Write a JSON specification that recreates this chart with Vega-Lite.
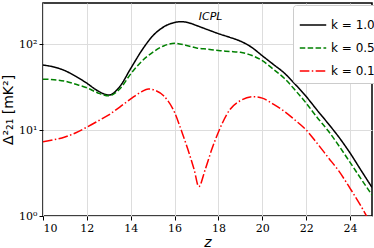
{
  "$schema": "https://vega.github.io/schema/vega-lite/v6.json",
  "width": 329,
  "height": 213,
  "autosize": {"type": "none"},
  "padding": {"left": 43, "top": 3, "right": 2, "bottom": 32},
  "background": "white",
  "config": {
    "view": {"stroke": "black", "strokeWidth": 1.5},
    "axis": {
      "labelFont": "DejaVu Serif", "labelFontSize": 11, "labelColor": "black",
      "titleFont": "DejaVu Sans", "titleFontWeight": "normal", "titleColor": "black",
      "gridColor": "#dddddd", "gridWidth": 1,
      "tickColor": "black", "tickSize": 4, "domain": false
    }
  },
  "datasets": {
    "curves": [
      {"z": 10, "v": 57, "k": "k = 1.0"}, {"z": 10.5, "v": 54, "k": "k = 1.0"}, {"z": 11, "v": 49, "k": "k = 1.0"}, {"z": 11.5, "v": 42, "k": "k = 1.0"}, {"z": 12, "v": 35, "k": "k = 1.0"}, {"z": 12.5, "v": 28.5, "k": "k = 1.0"}, {"z": 13, "v": 25.5, "k": "k = 1.0"}, {"z": 13.5, "v": 32, "k": "k = 1.0"}, {"z": 14, "v": 52, "k": "k = 1.0"}, {"z": 14.5, "v": 84, "k": "k = 1.0"}, {"z": 15, "v": 124, "k": "k = 1.0"}, {"z": 15.5, "v": 158, "k": "k = 1.0"}, {"z": 16, "v": 178, "k": "k = 1.0"}, {"z": 16.3, "v": 182, "k": "k = 1.0"}, {"z": 16.6, "v": 178, "k": "k = 1.0"}, {"z": 17, "v": 164, "k": "k = 1.0"}, {"z": 17.5, "v": 147, "k": "k = 1.0"}, {"z": 18, "v": 132, "k": "k = 1.0"}, {"z": 18.5, "v": 120, "k": "k = 1.0"}, {"z": 19, "v": 108, "k": "k = 1.0"}, {"z": 19.5, "v": 92, "k": "k = 1.0"}, {"z": 20, "v": 73, "k": "k = 1.0"}, {"z": 20.5, "v": 58, "k": "k = 1.0"}, {"z": 21, "v": 46, "k": "k = 1.0"}, {"z": 21.5, "v": 34, "k": "k = 1.0"}, {"z": 22, "v": 24.5, "k": "k = 1.0"}, {"z": 22.5, "v": 17, "k": "k = 1.0"}, {"z": 23, "v": 11.9, "k": "k = 1.0"}, {"z": 23.5, "v": 8.2, "k": "k = 1.0"}, {"z": 24, "v": 5.4, "k": "k = 1.0"}, {"z": 24.5, "v": 3.4, "k": "k = 1.0"}, {"z": 25, "v": 2.15, "k": "k = 1.0"},
      {"z": 10, "v": 39, "k": "k = 0.5"}, {"z": 10.5, "v": 38.5, "k": "k = 0.5"}, {"z": 11, "v": 37, "k": "k = 0.5"}, {"z": 11.5, "v": 34, "k": "k = 0.5"}, {"z": 12, "v": 31, "k": "k = 0.5"}, {"z": 12.5, "v": 27, "k": "k = 0.5"}, {"z": 13, "v": 25, "k": "k = 0.5"}, {"z": 13.5, "v": 30, "k": "k = 0.5"}, {"z": 14, "v": 45, "k": "k = 0.5"}, {"z": 14.5, "v": 63, "k": "k = 0.5"}, {"z": 15, "v": 80, "k": "k = 0.5"}, {"z": 15.5, "v": 95, "k": "k = 0.5"}, {"z": 16, "v": 102, "k": "k = 0.5"}, {"z": 16.5, "v": 97, "k": "k = 0.5"}, {"z": 17, "v": 90, "k": "k = 0.5"}, {"z": 17.5, "v": 87, "k": "k = 0.5"}, {"z": 18, "v": 84, "k": "k = 0.5"}, {"z": 18.5, "v": 82, "k": "k = 0.5"}, {"z": 19, "v": 80, "k": "k = 0.5"}, {"z": 19.5, "v": 74, "k": "k = 0.5"}, {"z": 20, "v": 64, "k": "k = 0.5"}, {"z": 20.5, "v": 51, "k": "k = 0.5"}, {"z": 21, "v": 40, "k": "k = 0.5"}, {"z": 21.5, "v": 29, "k": "k = 0.5"}, {"z": 22, "v": 20.5, "k": "k = 0.5"}, {"z": 22.5, "v": 14, "k": "k = 0.5"}, {"z": 23, "v": 9.8, "k": "k = 0.5"}, {"z": 23.5, "v": 6.5, "k": "k = 0.5"}, {"z": 24, "v": 4.2, "k": "k = 0.5"}, {"z": 24.5, "v": 2.7, "k": "k = 0.5"}, {"z": 25, "v": 1.75, "k": "k = 0.5"},
      {"z": 10, "v": 7.3, "k": "k = 0.1"}, {"z": 10.5, "v": 7.7, "k": "k = 0.1"}, {"z": 11, "v": 8.3, "k": "k = 0.1"}, {"z": 11.5, "v": 9.3, "k": "k = 0.1"}, {"z": 12, "v": 10.8, "k": "k = 0.1"}, {"z": 12.5, "v": 12.7, "k": "k = 0.1"}, {"z": 13, "v": 15, "k": "k = 0.1"}, {"z": 13.5, "v": 18.5, "k": "k = 0.1"}, {"z": 14, "v": 23, "k": "k = 0.1"}, {"z": 14.5, "v": 28, "k": "k = 0.1"}, {"z": 14.8, "v": 30, "k": "k = 0.1"}, {"z": 15.1, "v": 29, "k": "k = 0.1"}, {"z": 15.5, "v": 25, "k": "k = 0.1"}, {"z": 16, "v": 16, "k": "k = 0.1"}, {"z": 16.3, "v": 10, "k": "k = 0.1"}, {"z": 16.6, "v": 6, "k": "k = 0.1"}, {"z": 16.9, "v": 3.4, "k": "k = 0.1"}, {"z": 17.1, "v": 2.2, "k": "k = 0.1"}, {"z": 17.4, "v": 3.5, "k": "k = 0.1"}, {"z": 17.7, "v": 6, "k": "k = 0.1"}, {"z": 18, "v": 9.5, "k": "k = 0.1"}, {"z": 18.5, "v": 17, "k": "k = 0.1"}, {"z": 19, "v": 22, "k": "k = 0.1"}, {"z": 19.6, "v": 24.4, "k": "k = 0.1"}, {"z": 20, "v": 23.5, "k": "k = 0.1"}, {"z": 20.5, "v": 20, "k": "k = 0.1"}, {"z": 21, "v": 16.5, "k": "k = 0.1"}, {"z": 21.5, "v": 13, "k": "k = 0.1"}, {"z": 22, "v": 10, "k": "k = 0.1"}, {"z": 22.5, "v": 7, "k": "k = 0.1"}, {"z": 23, "v": 4.8, "k": "k = 0.1"}, {"z": 23.5, "v": 3.3, "k": "k = 0.1"}, {"z": 24, "v": 2.1, "k": "k = 0.1"}, {"z": 24.5, "v": 1.3, "k": "k = 0.1"}, {"z": 24.8, "v": 0.95, "k": "k = 0.1"}
    ],
    "labels": [{"z": 17.64, "v": 206, "t": "ICPL"}]
  },
  "layer": [
    {
      "data": {"name": "curves"},
      "mark": {"type": "line", "strokeWidth": 1.5, "interpolate": "monotone", "clip": true},
      "encoding": {
        "x": {"field": "z", "type": "quantitative", "scale": {"domain": [10, 25], "nice": false, "zero": false},
          "axis": {"values": [10, 12, 14, 16, 18, 20, 22, 24], "title": "z", "titleFontStyle": "italic", "titleFontSize": 14, "titlePadding": 2, "labelPadding": 2}},
        "y": {"field": "v", "type": "quantitative", "scale": {"type": "log", "domain": [1, 300], "nice": false},
          "axis": {"values": [1, 10, 100], "labelExpr": "datum.value == 1 ? '10⁰' : datum.value == 10 ? '10¹' : '10²'", "title": "Δ²₂₁ [mK²]", "titleFontSize": 14, "titlePadding": 3, "labelPadding": 2}},
        "color": {"field": "k", "type": "nominal", "sort": ["k = 1.0", "k = 0.5", "k = 0.1"],
          "scale": {"domain": ["k = 1.0", "k = 0.5", "k = 0.1"], "range": ["black", "#008000", "#ff0000"]},
          "legend": {"title": null, "orient": "none", "legendX": 250, "legendY": 2, "symbolType": "stroke", "symbolSize": 700, "symbolStrokeWidth": 1.5, "labelFont": "DejaVu Sans", "labelFontSize": 12, "labelColor": "black", "strokeColor": "#cccccc", "fillColor": "white", "padding": 6, "cornerRadius": 3, "rowPadding": 3}},
        "strokeDash": {"field": "k", "type": "nominal", "sort": ["k = 1.0", "k = 0.5", "k = 0.1"],
          "scale": {"domain": ["k = 1.0", "k = 0.5", "k = 0.1"], "range": [[1, 0], [5.5, 2.4], [9.6, 2.4, 1.5, 2.4]]},
          "legend": null}
      }
    },
    {
      "data": {"name": "labels"},
      "mark": {"type": "text", "font": "DejaVu Sans", "fontStyle": "italic", "fontSize": 11, "color": "black"},
      "encoding": {
        "x": {"field": "z", "type": "quantitative"},
        "y": {"field": "v", "type": "quantitative"},
        "text": {"field": "t"}
      }
    }
  ]
}
